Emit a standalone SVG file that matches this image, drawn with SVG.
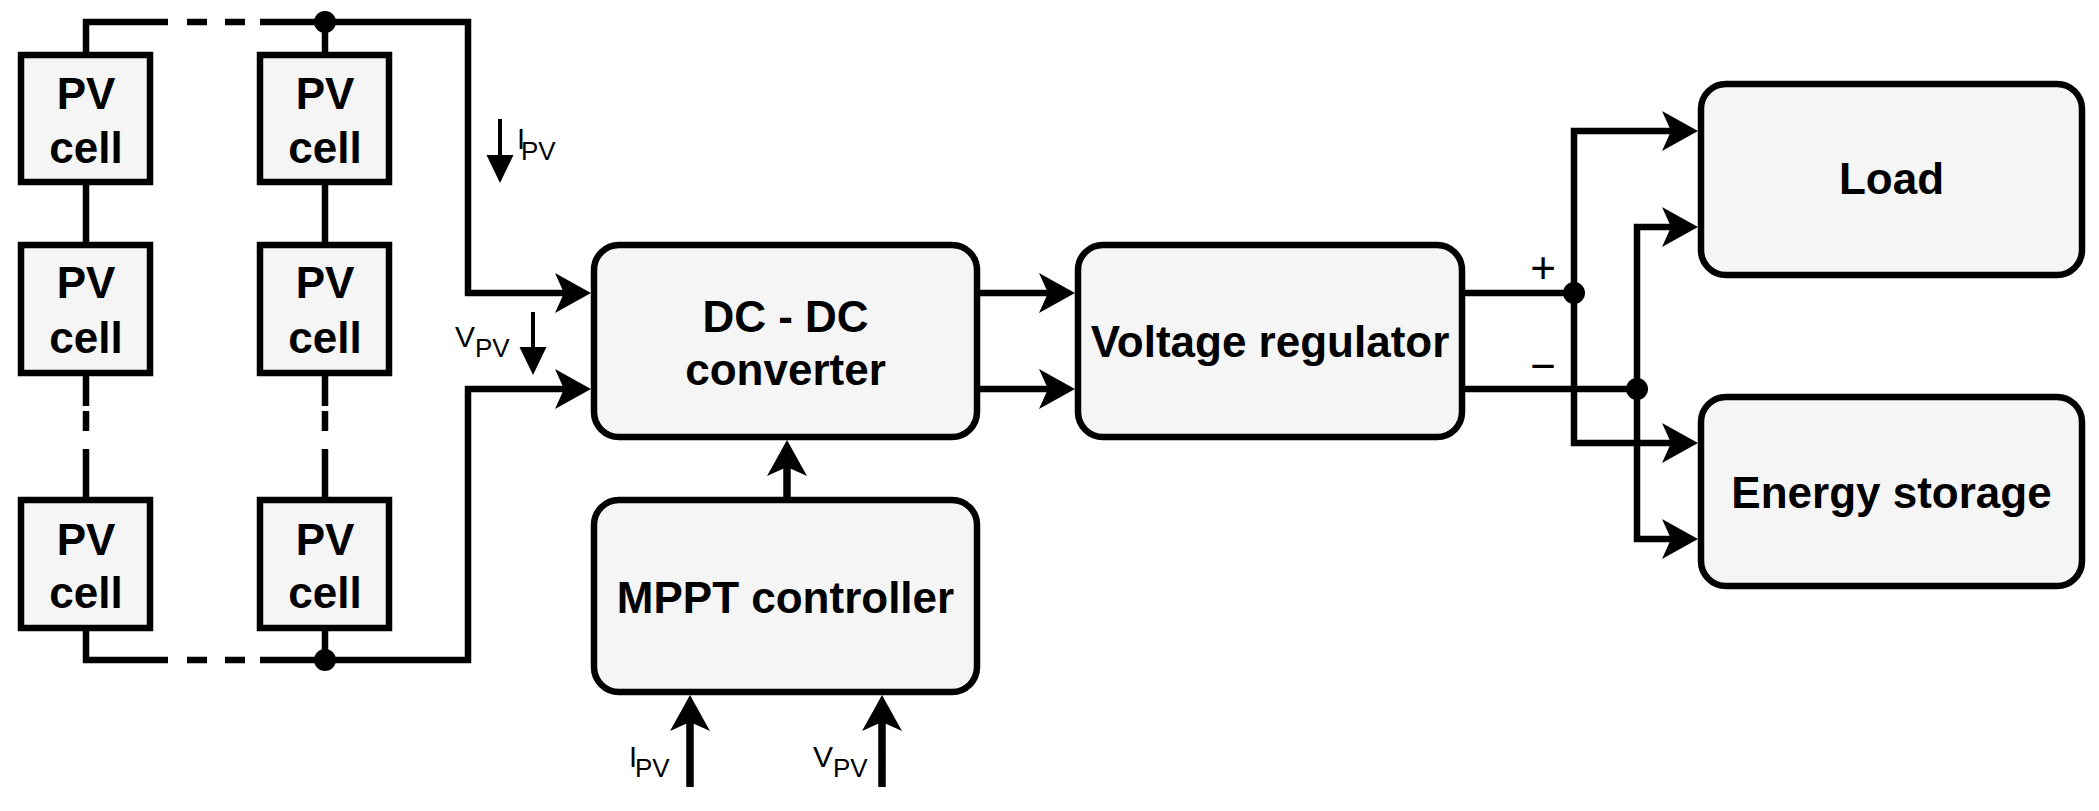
<svg xmlns="http://www.w3.org/2000/svg" width="2099" height="811" viewBox="0 0 2099 811">
<style>
.cell{fill:#f5f5f5;stroke:#000;stroke-width:6.5}
.box{fill:#f5f5f5;stroke:#000;stroke-width:6.5}
.t{font-family:"Liberation Sans",Arial,sans-serif;font-weight:bold;font-size:44px;fill:#000;text-anchor:middle}
.lbl{font-family:"Liberation Sans",Arial,sans-serif;font-weight:normal;fill:#000}
.w{fill:none;stroke:#000;stroke-width:6.5;stroke-linejoin:miter;stroke-linecap:butt}
.wa{fill:none;stroke:#000;stroke-width:6.5;stroke-linejoin:miter;marker-end:url(#arr)}
.wb{fill:none;stroke:#000;stroke-width:7.5;marker-end:url(#arr)}
.ws{fill:none;stroke:#000;stroke-width:4;marker-end:url(#sm)}
.dot{fill:#000}
</style>
<defs>
<marker id="arr" markerUnits="userSpaceOnUse" orient="auto" overflow="visible" markerWidth="1" markerHeight="1" refX="0" refY="0">
<path d="M27,0 L-9,-20 L0,0 L-9,20 Z" fill="#000"/>
</marker>
<marker id="sm" markerUnits="userSpaceOnUse" orient="auto" overflow="visible" markerWidth="1" markerHeight="1" refX="0" refY="0">
<path d="M28,0 L0,-13.5 L0,13.5 Z" fill="#000"/>
</marker>
</defs>

<g id="connectors">
<!-- top bus -->
<path class="w" d="M86,52 V22 H168"/>
<path class="w" d="M187,22 H207 M225,22 H245"/>
<path class="wa" d="M260,22 H468 V293 H564"/>
<path class="w" d="M325,22 V52"/>
<!-- cell links -->
<path class="w" d="M86,182 V245 M325,182 V245"/>
<path class="w" d="M86,373 V406 M86,411 V431 M86,449 V500"/>
<path class="w" d="M325,373 V406 M325,411 V431 M325,449 V500"/>
<!-- bottom bus -->
<path class="w" d="M86,628 V660 H168"/>
<path class="w" d="M187,660 H207 M225,660 H245"/>
<path class="wa" d="M260,660 H468 V389 H564"/>
<path class="w" d="M325,628 V660"/>
<circle class="dot" cx="325" cy="22" r="11"/>
<circle class="dot" cx="325" cy="660" r="11"/>
<!-- DC-DC to regulator -->
<path class="wa" d="M977,293 H1048"/>
<path class="wa" d="M977,389 H1048"/>
<!-- MPPT to DC-DC -->
<path class="wb" d="M787,500 V467"/>
<!-- inputs to MPPT -->
<path class="wb" d="M690,787 V722"/>
<path class="wb" d="M882,787 V722"/>
<!-- regulator outputs -->
<path class="w" d="M1462,293 H1574"/>
<path class="w" d="M1462,389 H1637"/>
<path class="wa" d="M1574,293 V131 H1671"/>
<path class="wa" d="M1574,293 V443 H1671"/>
<path class="wa" d="M1637,389 V227 H1671"/>
<path class="wa" d="M1637,389 V539 H1671"/>
<circle class="dot" cx="1574" cy="293" r="11"/>
<circle class="dot" cx="1637" cy="389" r="11"/>
<!-- measurement arrows -->
<path class="ws" d="M500,119 V155"/>
<path class="ws" d="M533,312 V347"/>
</g>

<g id="labels">
<text class="lbl" font-size="29"><tspan x="517" y="149">I</tspan><tspan x="521" y="160" font-size="26">PV</tspan></text>
<text class="lbl" font-size="30"><tspan x="455" y="347">V</tspan><tspan x="475" y="357" font-size="26">PV</tspan></text>
<text class="lbl" font-size="29"><tspan x="629" y="767">I</tspan><tspan x="635" y="777" font-size="26">PV</tspan></text>
<text class="lbl" font-size="30"><tspan x="813" y="767">V</tspan><tspan x="833" y="777" font-size="26">PV</tspan></text>
<text class="lbl" font-size="44" x="1543" y="283" text-anchor="middle">+</text>
<text class="lbl" font-size="44" x="1543" y="381" text-anchor="middle">−</text>
</g>

<g id="pv11"><rect class="cell" x="21" y="55" width="129" height="127"/><text class="t" x="86" y="109">PV</text><text class="t" x="86" y="163">cell</text></g>
<g id="pv12"><rect class="cell" x="260" y="55" width="129" height="127"/><text class="t" x="325" y="109">PV</text><text class="t" x="325" y="163">cell</text></g>
<g id="pv21"><rect class="cell" x="21" y="245" width="129" height="128"/><text class="t" x="86" y="298">PV</text><text class="t" x="86" y="353">cell</text></g>
<g id="pv22"><rect class="cell" x="260" y="245" width="129" height="128"/><text class="t" x="325" y="298">PV</text><text class="t" x="325" y="353">cell</text></g>
<g id="pv31"><rect class="cell" x="21" y="500" width="129" height="128"/><text class="t" x="86" y="555">PV</text><text class="t" x="86" y="608">cell</text></g>
<g id="pv32"><rect class="cell" x="260" y="500" width="129" height="128"/><text class="t" x="325" y="555">PV</text><text class="t" x="325" y="608">cell</text></g>

<g id="dcdc"><rect class="box" x="594" y="245" width="383" height="192" rx="25"/><text class="t" x="785.5" y="332">DC - DC</text><text class="t" x="785.5" y="385">converter</text></g>
<g id="mppt"><rect class="box" x="594" y="500" width="383" height="192" rx="25"/><text class="t" x="785.5" y="613">MPPT controller</text></g>
<g id="regulator"><rect class="box" x="1078" y="245" width="384" height="192" rx="25"/><text class="t" x="1270" y="357">Voltage regulator</text></g>
<g id="load"><rect class="box" x="1701" y="84" width="381" height="191" rx="25"/><text class="t" x="1891.5" y="194">Load</text></g>
<g id="storage"><rect class="box" x="1701" y="397" width="381" height="189" rx="25"/><text class="t" x="1891.5" y="508">Energy storage</text></g>
</svg>
